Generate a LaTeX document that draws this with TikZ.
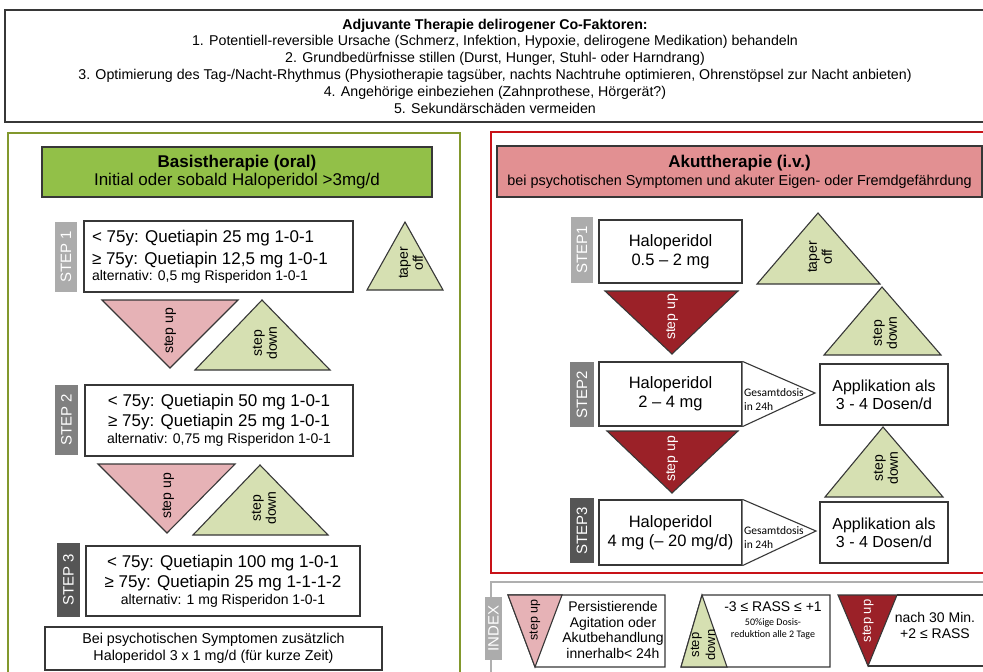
\documentclass[tikz,border=0pt]{standalone}
\usepackage{fontspec}
\setmainfont{Liberation Sans}
\newfontfamily\calibrifont{Carlito}
\usepackage{tikz}
\usetikzlibrary{positioning}
\definecolor{framegray}{RGB}{55,55,55}
\definecolor{basisframe}{RGB}{130,152,45}
\definecolor{basisfill}{RGB}{146,192,72}
\definecolor{akutframe}{RGB}{200,18,24}
\definecolor{akutfill}{RGB}{226,144,146}
\definecolor{indexframe}{RGB}{175,175,175}
\definecolor{upcolor}{RGB}{230,178,182}
\definecolor{downcolor}{RGB}{214,224,178}
\definecolor{acutecolor}{RGB}{155,33,40}
\definecolor{stepone}{RGB}{172,172,172}
\definecolor{steptwo}{RGB}{128,128,128}
\definecolor{stepthree}{RGB}{85,85,85}

\begin{document}
\begin{tikzpicture}[
    x=1pt, y=-1pt,
    drugbox/.style={draw=framegray, line width=1.1pt, fill=white, inner sep=0pt, align=center},
    titlebox/.style={draw=framegray, line width=1.1pt, inner sep=0pt, align=center, minimum height=50pt, font=\fontsize{17}{18}\selectfont},
    steplabel/.style={rotate=90, text=white, inner sep=0pt, font=\fontsize{15}{15}\selectfont},
    wedge/.style={draw=framegray, line width=1.1pt, line join=miter},
    trilabel/.style={rotate=90, align=center, inner sep=0pt, font=\fontsize{14}{15}\selectfont},
    medtext/.style={font=\fontsize{17}{20}\selectfont},
    halotext/.style={font=\fontsize{16.5}{19}\selectfont},
    dosetext/.style={inner sep=0pt, align=left, font=\calibrifont\fontsize{11.5}{14}\selectfont}
]
    \useasboundingbox (0,0) rectangle (983,672);

    % Adjuvante Therapie
    \node[drugbox, minimum width=980pt, minimum height=112pt, font=\fontsize{14.2}{16.8}\selectfont] (adjuvant) at (495,66)
        {\textbf{Adjuvante Therapie delirogener Co-Faktoren:}\\
         1. Potentiell-reversible Ursache (Schmerz, Infektion, Hypoxie, delirogene Medikation) behandeln\\
         2. Grundbedürfnisse stillen (Durst, Hunger, Stuhl- oder Harndrang)\\
         3. Optimierung des Tag-/Nacht-Rhythmus (Physiotherapie tagsüber, nachts Nachtruhe optimieren, Ohrenstöpsel zur Nacht anbieten)\\
         4. Angehörige einbeziehen (Zahnprothese, Hörgerät?)\\
         5. Sekundärschäden vermeiden};

    % Panels
    \draw[basisframe, line width=1.5pt] (8,133) rectangle (460,690);
    \draw[akutframe, line width=2.5pt] (491,132) rectangle (995,573);
    \draw[indexframe, line width=1.5pt] (491,582) rectangle (995,695);

    % Basistherapie
    \node[titlebox, fill=basisfill, minimum width=390pt] (basishead) at (237,172)
        {\textbf{Basistherapie (oral)}\\Initial oder sobald Haloperidol >3mg/d};

    \node[steplabel, fill=stepone, minimum width=70pt, minimum height=22pt] (bstep1) at (66,257) {STEP 1};
    \node[drugbox, medtext, text width=253pt, inner xsep=8pt, minimum height=71pt, align=flush left] (bdose1) at (218.5,256.5)
        {< 75y: Quetiapin 25 mg 1-0-1\\[2pt]
         ≥ 75y: Quetiapin 12,5 mg 1-0-1\\[-4pt]
         {\fontsize{14}{16}\selectfont alternativ: 0,5 mg Risperidon 1-0-1}};

    \draw[wedge, fill=downcolor] (405,222) -- (443,290) -- (367,290) -- cycle;
    \node[trilabel] (taperbasis) at (411,263) {taper\\off};

    \draw[wedge, fill=upcolor] (102,300) -- (238,300) -- (170,368) -- cycle;
    \node[trilabel] (upbasis1) at (170,331) {step up};
    \draw[wedge, fill=downcolor] (262,300) -- (330,370) -- (195,370) -- cycle;
    \node[trilabel] (downbasis1) at (265,343) {step\\down};

    \node[steplabel, fill=steptwo, minimum width=70pt, minimum height=23pt] (bstep2) at (66.5,420) {STEP 2};
    \node[drugbox, medtext, minimum width=268pt, minimum height=71pt] (bdose2) at (219,420.5)
        {< 75y: Quetiapin 50 mg 1-0-1\\
         ≥ 75y: Quetiapin 25 mg 1-0-1\\[-3pt]
         {\fontsize{14}{16}\selectfont alternativ: 0,75 mg Risperidon 1-0-1}};

    \draw[wedge, fill=upcolor] (98,464) -- (235,464) -- (167,533) -- cycle;
    \node[trilabel] (upbasis2) at (168,496) {step up};
    \draw[wedge, fill=downcolor] (260,465) -- (328,535) -- (193,535) -- cycle;
    \node[trilabel] (downbasis2) at (264,508) {step\\down};

    \node[steplabel, fill=stepthree, minimum width=74pt, minimum height=23pt] (bstep3) at (68.5,580) {STEP 3};
    \node[drugbox, medtext, minimum width=274pt, minimum height=70pt] (bdose3) at (223,581)
        {< 75y: Quetiapin 100 mg 1-0-1\\
         ≥ 75y: Quetiapin 25 mg 1-1-1-2\\[-3pt]
         {\fontsize{14}{16}\selectfont alternativ: 1 mg Risperidon 1-0-1}};

    \node[drugbox, minimum width=337pt, minimum height=43pt, font=\fontsize{14.3}{17}\selectfont] (psychotic) at (213.5,648.5)
        {Bei psychotischen Symptomen zusätzlich\\Haloperidol 3 x 1 mg/d (für kurze Zeit)};

    % Akuttherapie
    \node[titlebox, fill=akutfill, minimum width=485pt, minimum height=51pt] (akuthead) at (739.5,171.5)
        {\textbf{Akuttherapie (i.v.)}\\
         {\fontsize{14.4}{18}\selectfont bei psychotischen Symptomen und akuter Eigen- oder Fremdgefährdung}};

    \node[steplabel, fill=stepone, minimum width=66pt, minimum height=22pt] (astep1) at (582,250) {STEP1};
    \node[drugbox, halotext, minimum width=143pt, minimum height=63pt] (hdose1) at (670.5,251.5) {Haloperidol\\0.5 – 2 mg};

    \draw[wedge, fill=downcolor] (818,213) -- (880,284) -- (757,284) -- cycle;
    \node[trilabel] (taperakut) at (820,257) {taper\\off};

    \draw[wedge, fill=acutecolor] (605,291) -- (738,291) -- (672,354) -- cycle;
    \node[trilabel, text=white] (upakut1) at (672,317) {step up};
    \draw[wedge, fill=downcolor] (882,287) -- (941,355) -- (824,355) -- cycle;
    \node[trilabel] (downakut1) at (885,333) {step\\down};

    \node[steplabel, fill=steptwo, minimum width=65pt, minimum height=24pt] (astep2) at (582,394.5) {STEP2};
    \node[drugbox, halotext, minimum width=143pt, minimum height=64pt] (hdose2) at (670.5,394) {Haloperidol\\2 – 4 mg};
    \coordinate (tip2) at (815,393);
    \draw[wedge, fill=white] (hdose2.north east) -- (tip2) -- (hdose2.south east);
    \node[dosetext, anchor=west] (total2) at (744,400) {Gesamtdosis\\in 24h};
    \node[drugbox, minimum width=128pt, minimum height=61pt, font=\fontsize{16}{18}\selectfont] (split2) at (884,394.5) {Applikation als\\3 - 4 Dosen/d};

    \draw[wedge, fill=acutecolor] (607,431) -- (738,431) -- (672,493) -- cycle;
    \node[trilabel, text=white] (upakut2) at (672,459) {step up};
    \draw[wedge, fill=downcolor] (883,427) -- (943,497) -- (825,497) -- cycle;
    \node[trilabel] (downakut2) at (886,468) {step\\down};

    \node[steplabel, fill=stepthree, minimum width=65pt, minimum height=24pt] (astep3) at (582,530.5) {STEP3};
    \node[drugbox, halotext, minimum width=143pt, minimum height=65pt] (hdose3) at (670.5,532.5) {Haloperidol\\4 mg (– 20 mg/d)};
    \coordinate (tip3) at (816,531);
    \draw[wedge, fill=white] (hdose3.north east) -- (tip3) -- (hdose3.south east);
    \node[dosetext, anchor=west] (total3) at (744,538) {Gesamtdosis\\in 24h};
    \node[drugbox, minimum width=128pt, minimum height=61pt, font=\fontsize{16}{18}\selectfont] (split3) at (884,532.5) {Applikation als\\3 - 4 Dosen/d};

    % Index
    \node[steplabel, fill=stepone, minimum width=63pt, minimum height=17pt] (indexlabel) at (493.5,628.5) {INDEX};

    \draw[wedge, fill=white] (508,595) -- (665,595) -- (665,667) -- (535,667) -- cycle;
    \draw[wedge, fill=upcolor] (508,595) -- (562,595) -- (535,667) -- cycle;
    \node[trilabel, font=\fontsize{12.5}{14}\selectfont] (upindex) at (535,620) {step up};
    \node[align=center, inner sep=0pt, font=\fontsize{14}{15.7}\selectfont] (agitation) at (613,630)
        {Persistierende\\Agitation oder\\Akutbehandlung\\innerhalb< 24h};

    \draw[wedge, fill=white] (681,667) -- (702,595) -- (830,595) -- (830,667) -- cycle;
    \draw[wedge, fill=downcolor] (681,667) -- (702,595) -- (727,667) -- cycle;
    \node[trilabel, font=\fontsize{13}{16}\selectfont] (downindex) at (703,645) {step\\down};
    \node[align=center, inner sep=0pt, font=\fontsize{14}{16}\selectfont] (rass) at (773,620)
        {-3 ≤ RASS ≤ +1\\[-2pt]
         {\calibrifont\fontsize{10}{12}\selectfont 50\%ige Dosis-}\\[-4pt]
         {\calibrifont\fontsize{10}{12}\selectfont reduktion alle 2 Tage}};

    \draw[wedge, fill=white] (897,595) -- (995,595) -- (995,666) -- (868,666);
    \draw[wedge, fill=acutecolor] (838,595) -- (897,595) -- (868,666) -- cycle;
    \node[trilabel, text=white, font=\fontsize{13}{14}\selectfont] (upindex2) at (868,621) {step up};
    \node[align=center, inner sep=0pt, font=\fontsize{14}{16}\selectfont] (nachdosis) at (935,625) {nach 30 Min.\\+2 ≤ RASS};
\end{tikzpicture}
\end{document}
